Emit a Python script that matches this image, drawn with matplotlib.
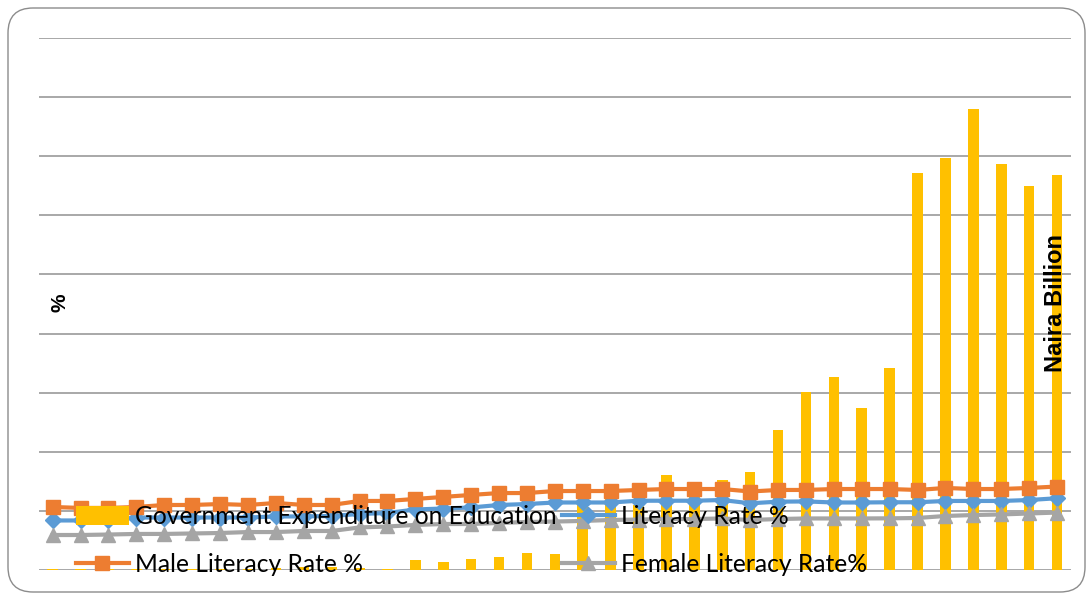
import matplotlib
matplotlib.use("Agg")
import matplotlib.pyplot as plt
import numpy as np
from matplotlib.patches import FancyBboxPatch, Patch
from matplotlib.lines import Line2D

# Government expenditure on education (Naira Billion), one value per year (37 years)
expenditure = [0.5, 0.5, 0.7, 0.6, 0.8, 0.8, 1.0, 1.2, 1.5, 2.8,
               2.2, 1.5, 0.8, 8.5, 7.0, 9.3, 11.0, 14.6, 13.3, 58.0,
               60.0, 55.0, 80.0, 68.0, 76.0, 83.0, 118.4, 150.8, 163.5, 136.8,
               170.6, 335.6, 348.3, 390.0, 343.5, 324.9, 334.2]
# Literacy rates (%)
literacy = [41.9, 41.9, 41.9, 44.4, 44.4, 44.4, 44.4, 44.4, 45.3, 45.3,
            45.7, 47.4, 48.2, 51.2, 52.0, 52.9, 55.0, 55.8, 57.1, 57.1,
            57.1, 58.6, 58.6, 58.6, 59.2, 56.4, 57.8, 58.0, 57.1, 57.1,
            57.3, 57.3, 58.4, 58.4, 58.4, 59.2, 60.7]
male = [53.3, 52.5, 52.5, 53.3, 55.0, 55.0, 55.8, 55.0, 56.7, 55.0,
        55.0, 58.4, 58.4, 60.1, 61.8, 63.5, 65.1, 65.1, 66.8, 66.8,
        66.8, 67.7, 68.5, 68.5, 68.5, 66.4, 67.7, 67.7, 68.5, 68.5,
        68.5, 67.7, 69.4, 68.5, 68.5, 69.4, 70.6]
female = [29.6, 29.6, 30.0, 30.5, 30.5, 30.9, 31.3, 32.1, 32.1, 33.0,
          33.0, 36.0, 36.8, 38.1, 38.9, 38.9, 39.8, 40.6, 41.0, 41.5,
          42.3, 42.7, 43.1, 43.1, 43.6, 42.3, 43.1, 43.6, 43.6, 43.6,
          43.7, 44.0, 45.7, 46.5, 47.0, 47.8, 48.6]

series_names = ["Government Expenditure on Education", "Literacy Rate %",
                "Male Literacy Rate %", "Female Literacy Rate%"]

C_BAR = "#FFC000"
C_LIT = "#5B9BD5"
C_MALE = "#ED7D31"
C_FEM = "#A5A5A5"
C_GRID = "#9A9A9A"

W, H = 1091, 593
fig = plt.figure(figsize=(W / 100, H / 100), dpi=100)
plt.rcParams['font.family'] = ['Lato', 'DejaVu Sans']

# rounded frame (inches)
frame = FancyBboxPatch((0.08, 0.01), 10.77, 5.84,
                       boxstyle="round,pad=0,rounding_size=0.25",
                       transform=fig.dpi_scale_trans, facecolor="none",
                       edgecolor="#8C8C8C", linewidth=1.0, zorder=-5)
fig.patches.append(frame)

left, right = 38.7 / W, 1071 / W
bottom, top = 1 - 570 / H, 1 - 38 / H
ax = fig.add_axes([left, bottom, right - left, top - bottom])
ax.patch.set_alpha(0)
x = np.arange(len(expenditure))

ax.bar(x, expenditure, width=0.38, color=C_BAR, zorder=2)
ax.set_ylim(0, 450)
ax.set_xlim(-0.5, len(x) - 0.5)
ax.set_yticks(np.arange(0, 451, 50))
ax.yaxis.grid(True, color=C_GRID, linewidth=1.2, zorder=0)
ax.set_axisbelow(True)
ax.tick_params(which="both", left=False, right=False, top=False, bottom=False,
               length=0, labelleft=False, labelbottom=False)
for s in ax.spines.values():
    s.set_visible(False)

ax2 = ax.twinx()
ax2.set_ylim(0, 450)
ax2.tick_params(which="both", left=False, right=False, top=False, bottom=False,
                length=0, labelright=False, labelleft=False)
for s in ax2.spines.values():
    s.set_visible(False)
ax2.plot(x, literacy, color=C_LIT, lw=3, marker="D", ms=8, zorder=3)
ax2.plot(x, female, color=C_FEM, lw=3, marker="^", ms=10, zorder=3)
ax2.plot(x, male, color=C_MALE, lw=3, marker="s", ms=9.5, zorder=4)

handles = [Patch(facecolor=C_BAR, edgecolor="none"),
           Line2D([], [], color=C_LIT, lw=3, marker="D", ms=8),
           Line2D([], [], color=C_MALE, lw=3, marker="s", ms=9.5),
           Line2D([], [], color=C_FEM, lw=3, marker="^", ms=10)]
order = [0, 2, 1, 3]
leg = ax2.legend([handles[i] for i in order], [series_names[i] for i in order],
                 ncol=2, frameon=False, fontsize=17.7,
                 loc="upper left", bbox_to_anchor=(76 / W, 1 - 505 / H),
                 bbox_transform=fig.transFigure, borderaxespad=0, borderpad=0,
                 handlelength=2.15, handleheight=0.8, handletextpad=0.25,
                 columnspacing=0.22, labelspacing=1.0)
leg.set_zorder(10)

fig.text(60 / W, 1 - 303 / H, "%", rotation=90, ha="center", va="center",
         fontsize=15, fontweight="bold", family=["Liberation Sans", "DejaVu Sans"])
fig.text(1055 / W, 1 - 303 / H, "Naira Billion", rotation=90, ha="center", va="center",
         fontsize=17, fontweight="bold", family=["Liberation Sans", "DejaVu Sans"])

fig.savefig("out.png", dpi=100)
